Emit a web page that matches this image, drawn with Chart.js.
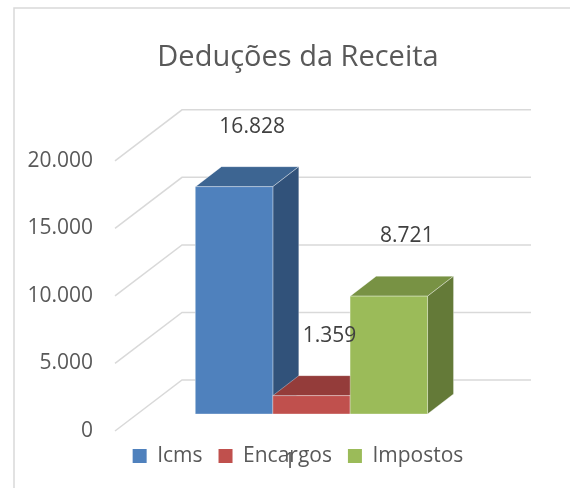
<!DOCTYPE html>
<html>
<head>
<meta charset="utf-8">
<script src="https://cdn.jsdelivr.net/npm/chart.js@4.4.0/dist/chart.umd.min.js"></script>
<style>
  html, body { margin: 0; padding: 0; background: #fff; }
  #wrap { width: 570px; height: 488px; position: relative; }
</style>
</head>
<body>
<div id="wrap"><canvas id="chart"></canvas></div>
<script>
// dados
const categories = ['1'];
const seriesNames = ['Icms', 'Encargos', 'Impostos'];
const icmsValues = [16828];
const encargosValues = [1359];
const impostosValues = [8721];
const yTicks = [0, 5000, 10000, 15000, 20000];

// cores das faces (frente, topo, lateral)
const faceColors = [
    { front: '#4F81BD', top: '#3D6592', side: '#31527A' },
    { front: '#C0504D', top: '#943C3A', side: '#7D3331' },
    { front: '#9BBB59', top: '#789244', side: '#647A38' }
];

// profundidade das barras e do piso (pixels)
const BAR_DEPTH = { x: 26, y: -20 };
const FLOOR = { frontX: -22, frontY: 17, backX: 45, backY: -34 };
const LABEL_OFFSET = { x: 18, y: -60 };
const TEXT_FONT = "21px 'Open Sans'";

function fmt(v) {
    return String(v).replace(/\B(?=(\d{3})+(?!\d))/g, '.');
}

function poly(ctx, pts, color) {
    ctx.beginPath();
    ctx.moveTo(pts[0][0], pts[0][1]);
    for (let i = 1; i < pts.length; i++) ctx.lineTo(pts[i][0], pts[i][1]);
    ctx.closePath();
    ctx.fillStyle = color;
    ctx.fill();
    ctx.strokeStyle = 'rgba(255,255,255,0.35)';
    ctx.lineWidth = 1;
    ctx.stroke();
}

const threeD = {
    id: 'threeD',
    beforeDraw(chart) {
        const { ctx } = chart;
        ctx.save();
        ctx.fillStyle = '#fff';
        ctx.fillRect(0, 0, chart.width, chart.height);
        ctx.strokeStyle = '#d9d9d9';
        ctx.lineWidth = 1.5;
        ctx.strokeRect(14, 8, chart.width, chart.height);
        ctx.restore();
    },
    beforeDatasetsDraw(chart) {
        const { ctx, chartArea: a } = chart;
        const y = chart.scales.y;
        const x = chart.scales.x;
        ctx.save();
        ctx.strokeStyle = '#d9d9d9';
        ctx.lineWidth = 1.5;
        y.ticks.forEach(t => {
            const py = y.getPixelForValue(t.value);
            ctx.beginPath();
            ctx.moveTo(a.left + FLOOR.frontX, py + FLOOR.frontY);
            ctx.lineTo(a.left + FLOOR.backX, py + FLOOR.backY);
            ctx.lineTo(a.right + FLOOR.backX, py + FLOOR.backY);
            ctx.stroke();
        });
        // rótulos do eixo de valores, na borda frontal do piso
        ctx.fillStyle = '#595959';
        ctx.font = TEXT_FONT;
        ctx.textAlign = 'right';
        ctx.textBaseline = 'middle';
        y.ticks.forEach(t => {
            const py = y.getPixelForValue(t.value);
            ctx.fillText(fmt(t.value), a.left + FLOOR.frontX - 22, py + FLOOR.frontY);
        });
        // rótulo da categoria
        ctx.textAlign = 'center';
        x.ticks.forEach((t, i) => {
            ctx.fillText(x.getLabelForValue(t.value), x.getPixelForTick(i) + FLOOR.frontX, a.bottom + 48);
        });
        ctx.restore();
    },
    afterDatasetsDraw(chart) {
        const { ctx } = chart;
        ctx.save();
        const labels = [];
        chart.data.datasets.forEach((ds, i) => {
            const meta = chart.getDatasetMeta(i);
            const c = faceColors[i];
            meta.data.forEach((el, j) => {
                const { x, y, base, width } = el.getProps(['x', 'y', 'base', 'width'], true);
                const l = x - width / 2, r = x + width / 2;
                const dx = BAR_DEPTH.x, dy = BAR_DEPTH.y;
                poly(ctx, [[l, y], [r, y], [r + dx, y + dy], [l + dx, y + dy]], c.top);
                poly(ctx, [[r, y], [r + dx, y + dy], [r + dx, base + dy], [r, base]], c.side);
                poly(ctx, [[l, y], [r, y], [r, base], [l, base]], c.front);
                labels.push([fmt(ds.data[j]), x + LABEL_OFFSET.x, y + LABEL_OFFSET.y]);
            });
        });
        ctx.fillStyle = '#404040';
        ctx.font = TEXT_FONT;
        ctx.textAlign = 'center';
        ctx.textBaseline = 'middle';
        labels.forEach(([txt, lx, ly]) => ctx.fillText(txt, lx, ly));
        ctx.restore();
    }
};

Chart.defaults.font.family = "'Open Sans', sans-serif";
Chart.defaults.color = '#595959';

const seriesValues = [icmsValues, encargosValues, impostosValues];

new Chart(document.getElementById('chart'), {
    type: 'bar',
    data: {
        labels: categories,
        datasets: seriesNames.map((name, i) => ({
            label: name,
            data: seriesValues[i],
            backgroundColor: faceColors[i].front,
            barPercentage: 1,
            categoryPercentage: 0.665
        }))
    },
    options: {
        responsive: true,
        maintainAspectRatio: false,
        animation: false,
        layout: { padding: { left: 110, right: 84, top: 0, bottom: 11.5 } },
        plugins: {
            title: {
                display: true,
                text: 'Deduções da Receita',
                color: '#595959',
                font: { size: 29, weight: 'normal' },
                padding: { top: 40, bottom: 69 }
            },
            legend: {
                position: 'bottom',
                labels: {
                    boxWidth: 14,
                    boxHeight: 14,
                    padding: 16,
                    color: '#595959',
                    font: { size: 21 }
                }
            },
            tooltip: { enabled: false }
        },
        scales: {
            x: {
                grid: { display: false },
                border: { display: false },
                ticks: { display: false },
                afterFit(axis) { axis.height = 15.5; }
            },
            y: {
                min: 0,
                max: 20000,
                grid: { display: false },
                border: { display: false },
                ticks: { display: false },
                afterBuildTicks(axis) { axis.ticks = yTicks.map(v => ({ value: v })); },
                afterFit(axis) { axis.width = 27; }
            }
        }
    },
    plugins: [threeD]
});
</script>
</body>
</html>
